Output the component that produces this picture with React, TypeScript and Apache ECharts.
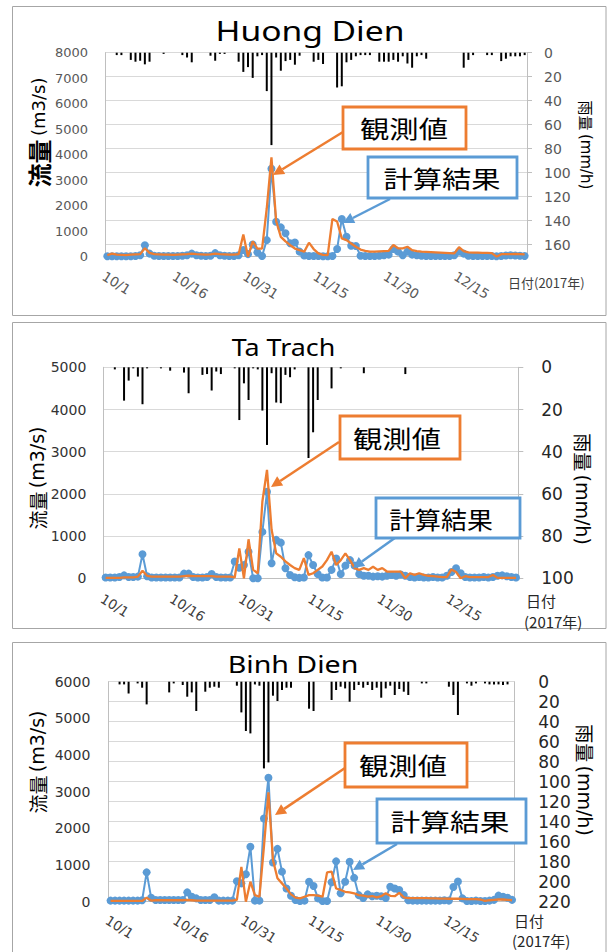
import React, { useEffect, useRef } from "react";
import * as echarts from "echarts";

// ---- categories: 2017/10/1 .. 2017/12/29 (one per day)
const MONTH_DAYS: [number, number][] = [[10, 31], [11, 30], [12, 29]];
const dates: string[] = [];
for (const [m, n] of MONTH_DAYS) for (let d = 1; d <= n; d++) dates.push(`${m}/${d}`);

// ---- Huong Dien
const rainHuongDien = [0,0,2,2,0,6,7.5,6.7,9.7,7.5, 0,0,1,0,0,0,2,4,8,0, 0,0,2.5,6.7,1,1,0,0,7.5,16, 12,21,3,2,32,77,4,15,7,6, 10,2.5,0,0,7.5,6,9.4,0,0,29, 28,8,6,3,2,2,2,0,7.5,7.5, 7.5,6,7.5,3,9,12.5,3,2,5,0, 0,0,0,0,0,0,12.5,6,2,0, 0,2,2,0,7,5,3,3,3,2];
const obsHuongDien = [60,120,80,70,60,80,90,100,330,150, 100,90,80,80,70,80,90,100,120,100, 90,80,90,120,100,90,80,80,100,870, 0,600,320,320,1900,3900,1400,780,600,450, 320,260,200,550,300,130,70,60,1480,1380, 720,650,520,390,280,230,200,200,210,220, 230,460,330,330,390,260,220,200,190,180, 170,160,150,140,130,370,220,170,160,160, 150,150,140,0,100,100,100,110,100,90];
const calcHuongDien = [20,20,20,20,20,20,30,60,450,120, 40,30,30,30,30,30,40,60,120,60, 40,30,40,140,60,40,30,30,60,260, 100,480,170,30,650,3450,1370,1150,920,530, 560,200,50,30,30,30,20,20,30,300, 1480,780,430,420,40,30,30,30,40,60, 80,300,200,60,200,80,60,40,30,30, 30,30,30,30,60,200,120,40,30,30, 30,30,30,20,30,50,60,50,40,30];

// ---- Ta Trach
const rainTaTrach = [0,0,1,0,15.8,6.3,0.5,4.4,17.5,0.5, 0,0,0.5,0,1.6,0,0,2.5,12.3,0, 0,3.6,3.2,11,2,3.2,0,0,0.5,25, 7.6,15.5,0.5,1,20.5,36.8,2.8,16.7,17,3.6, 4.7,1,0,0,43,30.8,15.5,0,0,10, 0,0.5,0,0,0,0,2.8,0,0,0, 0,0,0,0,0,3.2,0,0,0,0, 0,0,0,0,0,0,0,0,0,0, 0,0,0,0,0,0,0,0,0,0];
const obsTaTrach = [10,10,10,10,20,20,20,40,180,60, 40,40,40,40,40,40,40,50,60,50, 50,50,50,50,40,40,40,40,20,710, 0,925,200,120,1820,2570,1150,590,510,400, 315,240,200,480,80,120,200,280,430,630, 315,430,590,430,240,200,240,200,275,200, 240,160,160,160,160,0,120,80,120,80, 60,50,40,30,30,210,150,0,50,30, 30,30,30,30,80,10,10,10,10,10];
const calcTaTrach = [20,20,20,30,70,30,30,40,570,50, 20,20,20,20,20,20,20,110,110,30, 20,20,30,100,30,20,20,20,400,250, 315,630,0,0,1100,2050,355,910,845,240, 80,25,10,20,550,315,100,20,20,200, 470,100,300,430,300,100,60,60,40,50, 40,60,80,60,90,60,30,20,30,20, 20,30,20,20,60,150,240,120,30,20, 20,20,30,20,30,60,70,50,30,20];

// ---- Binh Dien
const rainBinhDien = [0,0,2.7,2.7,11.7,0,1.7,6,22.7,0, 0,0,0,10.7,1.7,0,3.3,15,10.7,29.3, 0,10,6,5,6,0,0,0,4,30.7, 49.3,51.7,2.7,4,86.7,80.7,14,19.3,8.3,6, 6,0,0,0,27,29.3,0,0,0,18.3, 8.3,5,6.7,20,8.3,3.3,6,3.3,8.3,6, 16,6.7,4,13.3,7.3,10,13.3,0,0,1.7, 1.7,0,0,0,0,5,13.3,33.3,0,1.7, 4,1.7,0,1.7,2.7,2.7,2.7,3.3,2.7,0];
const obsBinhDien = [20,20,20,20,20,20,20,20,110,30, 40,40,40,40,40,40,40,50,40,30, 30,30,30,30,30,30,30,30,50,950, 0,545,180,136,1500,2980,1140,640,500,360, 200,110,90,136,180,180,165,136,800,820, 360,320,270,255,230,180,165,136,155,120, 150,230,160,150,240,120,100,100,100,100, 95,90,90,85,85,80,80,80,75,70, 70,70,60,20,40,50,60,60,50,40];
const calcBinhDien = [30,30,30,30,30,30,30,40,800,110, 45,45,45,45,45,45,45,255,136,90, 45,45,45,120,30,30,30,30,560,500, 750,1500,30,30,2270,3380,1070,1440,820,360, 160,45,20,30,545,430,90,20,20,530, 1100,230,545,1090,650,180,100,200,150,160, 150,100,410,360,320,180,40,30,30,30, 30,30,30,30,40,30,400,550,90,20, 20,30,20,20,30,50,165,136,110,50];

// ---- axis ranges / tick steps
const flowMax = [8000, 5000, 6000];
const rainMax = [170, 100, 220];
const flowStep = 1000;
const rainStep = 20;
const titles = ["Huong Dien", "Ta Trach", "Binh Dien"];
const rains = [rainHuongDien, rainTaTrach, rainBinhDien];
const obs = [obsHuongDien, obsTaTrach, obsBinhDien];
const calcs = [calcHuongDien, calcTaTrach, calcBinhDien];

const ORANGE = "#ED7D31";
const BLUE = "#5B9BD5";
const NUM = "DejaVu Sans";
const CJK = "Noto Sans CJK JP";

// layout (pixels)
const GRIDS = [
  { left: 105, top: 52.7, width: 422, height: 204 },
  { left: 103.3, top: 367.3, width: 415, height: 211 },
  { left: 108.3, top: 681.7, width: 406, height: 220 },
];
const STYLE = [
  { lFont: 13, rFont: 14, lColor: "#595959", rColor: "#595959", lMargin: 17, rMargin: 17, xMargin: 12, xColor: "#595959" },
  { lFont: 14, rFont: 17, lColor: "#333333", rColor: "#262626", lMargin: 17, rMargin: 23, xMargin: 13, xColor: "#404040" },
  { lFont: 14, rFont: 17, lColor: "#333333", rColor: "#262626", lMargin: 18, rMargin: 24, xMargin: 11, xColor: "#404040" },
];

function arrow(x1: number, y1: number, x2: number, y2: number, color: string) {
  const dx = x2 - x1, dy = y2 - y1;
  const L = Math.hypot(dx, dy);
  const ux = dx / L, uy = dy / L;
  const hl = 11, hw = 5.5;
  const bx = x2 - ux * hl, by = y2 - uy * hl;
  return [
    { type: "line", z: 100, shape: { x1, y1, x2: bx, y2: by }, style: { stroke: color, lineWidth: 2.5 } },
    {
      type: "polygon", z: 100,
      shape: { points: [[x2, y2], [bx - uy * hw, by + ux * hw], [bx + uy * hw, by - ux * hw]] },
      style: { fill: color },
    },
  ];
}

function box(x: number, y: number, w: number, h: number, color: string, text: string, tx: number, ty: number, sx: number) {
  return [
    { type: "rect", z: 100, shape: { x, y, width: w, height: h }, style: { fill: "#fff", stroke: color, lineWidth: 2.8 } },
    {
      type: "text", z: 101, x: tx, y: ty, scaleX: sx,
      style: { text, fontSize: 24, fontFamily: CJK, fill: "#000", align: "center", verticalAlign: "middle" },
    },
  ];
}

// CJK part + latin part, as rich text
function label2(x: number, y: number, cjk: string, latin: string, cSize: number, lSize: number, rotation: number, bold = false, sep = " ") {
  return {
    type: "text", z: 101, x, y, rotation,
    style: {
      text: `{c|${cjk}}${sep}{l|${latin}}`, align: "center", verticalAlign: "middle",
      rich: {
        c: { fontSize: cSize, fontWeight: bold ? "bold" : "normal", fontFamily: CJK, fill: "#000" },
        l: { fontSize: lSize, fontFamily: NUM, fill: "#000" },
      },
    },
  };
}

function txt(x: number, y: number, text: string, fontSize: number, opts: any = {}) {
  const { scaleX = 1, align = "center", fill = "#000", fontFamily = CJK } = opts;
  return {
    type: "text", z: 101, x, y, scaleX,
    style: { text, fontSize, fontFamily, fill, align, verticalAlign: "middle" },
  };
}

export default function App() {
  const ref = useRef<HTMLDivElement>(null);
  useEffect(() => {
    if (!ref.current) return;
    const chart = echarts.init(ref.current, undefined, { renderer: "svg" });

    const xAxis: any[] = [];
    const yAxis: any[] = [];
    const series: any[] = [];
    GRIDS.forEach((g, i) => {
      const st = STYLE[i];
      xAxis.push({
        type: "category", gridIndex: i, data: dates, boundaryGap: true,
        axisLine: { show: true, onZero: false, lineStyle: { color: "#BFBFBF" } },
        axisTick: { show: false },
        splitLine: { show: false },
        axisLabel: {
          interval: 14, rotate: -32, align: "left", verticalAlign: "top", margin: st.xMargin,
          fontSize: 13.5, fontFamily: NUM, color: st.xColor,
        },
      });
      yAxis.push({
        type: "value", gridIndex: i, position: "left", min: 0, max: flowMax[i], interval: flowStep,
        axisLine: { show: true, lineStyle: { color: "#BFBFBF" } },
        axisTick: { show: false },
        splitLine: { show: false },
        axisLabel: {
          margin: st.lMargin, fontSize: st.lFont, fontFamily: NUM, color: st.lColor,
          formatter: (v: number) => String(v),
        },
      });
      yAxis.push({
        type: "value", gridIndex: i, position: "right", min: 0, max: rainMax[i], interval: rainStep, inverse: true,
        axisLine: { show: true, lineStyle: { color: "#BFBFBF" } },
        axisTick: { show: i < 2, length: 5, lineStyle: { color: "#BFBFBF" } },
        splitLine: { show: true, lineStyle: { color: "#D9D9D9", width: 1 } },
        axisLabel: {
          margin: st.rMargin, fontSize: st.rFont, fontFamily: NUM, color: st.rColor,
          showMaxLabel: rainMax[i] % rainStep === 0,
          formatter: (v: number) => String(v),
        },
      });
      series.push({
        type: "bar", name: "雨量", xAxisIndex: i, yAxisIndex: 2 * i + 1, data: rains[i],
        barWidth: 2, itemStyle: { color: "#000" }, z: 2,
      });
      series.push({
        type: "line", name: "計算結果", xAxisIndex: i, yAxisIndex: 2 * i, data: calcs[i],
        symbol: "circle", symbolSize: 8, showAllSymbol: true,
        lineStyle: { color: BLUE, width: 2 }, itemStyle: { color: BLUE }, z: 3,
      });
      series.push({
        type: "line", name: "観測値", xAxisIndex: i, yAxisIndex: 2 * i, data: obs[i],
        symbol: "none", lineStyle: { color: ORANGE, width: 2.3 }, z: 4,
      });
    });

    const frameStyle = { fill: "none", stroke: "#A6A6A6", lineWidth: 1 };
    const graphic: any[] = [
      { type: "rect", z: 0, shape: { x: 12.5, y: 6.5, width: 593.5, height: 309 }, style: frameStyle },
      { type: "rect", z: 0, shape: { x: 12.5, y: 322.5, width: 593.5, height: 306 }, style: frameStyle },
      { type: "rect", z: 0, shape: { x: 12.5, y: 642.5, width: 593.5, height: 330 }, style: frameStyle },

      // titles
      txt(310, 30, titles[0], 28, { fontFamily: "Noto Sans", scaleX: 1.2 }),
      txt(283.5, 347, titles[1], 24, { fontFamily: "Noto Sans", scaleX: 1.12 }),
      txt(293, 664, titles[2], 24, { fontFamily: "Noto Sans", scaleX: 1.19 }),

      // left axis names
      label2(38, 132.5, "流量", "(m3/s)", 24, 18, Math.PI / 2, true),
      label2(37, 478, "流量", "(m3/s)", 19, 19, Math.PI / 2),
      label2(37, 762, "流量", "(m3/s)", 19, 19, Math.PI / 2),

      // right axis names
      label2(586, 145, "雨量", "(mm/h)", 15, 15, -Math.PI / 2),
      label2(583, 489, "雨量", "(mm/h)", 19, 19, -Math.PI / 2),
      label2(585, 780, "雨量", "(mm/h)", 19, 19, -Math.PI / 2),

      // date axis names
      txt(508, 282, "日付(2017年)", 13, { align: "left", fill: "#404040" }),
      txt(526, 600, "日付", 15, { align: "left", fill: "#262626" }),
      txt(524, 621, "(2017年)", 15, { align: "left", fill: "#262626" }),
      txt(514, 920, "日付", 15, { align: "left", fill: "#262626" }),
      txt(512, 940, "(2017年)", 15, { align: "left", fill: "#262626" }),

      // annotations - panel 1
      ...arrow(343, 132, 273, 175, ORANGE),
      ...box(343, 107, 123, 42, ORANGE, "観測値", 404, 128, 1.22),
      ...arrow(390, 199, 343, 223, BLUE),
      ...box(368, 157, 149, 41, BLUE, "計算結果", 442, 177.5, 1.22),
      // panel 2
      ...arrow(339, 442, 271, 487, ORANGE),
      ...box(340, 416, 120, 43, ORANGE, "観測値", 397, 437.5, 1.22),
      ...arrow(399, 535, 353, 568, BLUE),
      ...box(376, 498, 144, 40, BLUE, "計算結果", 441, 518, 1.08),
      // panel 3
      ...arrow(345, 768, 275, 815, ORANGE),
      ...box(345, 743, 122, 44, ORANGE, "観測値", 403, 765, 1.22),
      ...arrow(397, 844, 353, 870, BLUE),
      ...box(377, 799, 149, 44, BLUE, "計算結果", 450, 821, 1.24),
    ];

    chart.setOption({
      animation: false,
      backgroundColor: "#fff",
      grid: GRIDS.map((g) => ({ ...g, containLabel: false, outerBoundsMode: "none" })),
      xAxis,
      yAxis,
      series,
      graphic,
    });
    return () => chart.dispose();
  }, []);
  return (
    <div
      ref={ref}
      style={{ position: "fixed", left: 0, top: 0, width: 609, height: 952, background: "#fff" }}
    />
  );
}
